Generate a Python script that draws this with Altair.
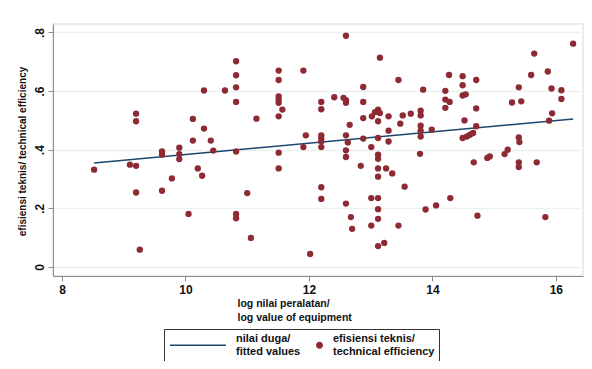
import altair as alt
import pandas as pd

# scatter: log value of equipment (x) vs technical efficiency (y)
eq_x = [10.82, 10.82, 10.82, 10.82, 10.30, 10.64, 9.20, 9.20, 10.12, 10.30,
        10.12, 10.41, 9.90, 10.45, 10.82, 9.62, 9.62, 9.90, 9.90, 8.52,
        9.10, 9.20, 10.20, 10.27, 9.78, 9.20, 9.62, 10.05, 10.82, 10.82,
        9.26, 12.60, 13.15, 11.51, 11.51, 11.91, 13.45, 12.88, 11.51, 11.51,
        11.51, 11.57, 11.51, 11.15, 12.20, 12.20, 12.41, 12.56, 12.60, 12.60,
        12.88, 13.12, 13.07, 13.02, 13.15, 12.88, 13.12, 13.29, 13.52, 13.48,
        12.66, 13.29, 11.95, 12.20, 12.20, 12.20, 12.60, 12.88, 13.12, 13.29,
        12.63, 11.91, 12.20, 13.01, 12.60, 11.51, 12.60, 13.12, 13.12, 12.84,
        13.12, 13.25, 13.35, 13.12, 13.55, 11.51, 12.20, 12.20, 11.00, 12.60,
        13.01, 13.12, 13.12, 12.68, 13.12, 13.01, 13.45, 12.70, 11.06, 13.22,
        13.12, 12.02, 16.28, 15.65, 15.60, 15.87, 15.40, 15.93, 16.09, 16.09,
        15.44, 15.29, 15.94, 15.89, 14.27, 14.49, 14.71, 14.49, 13.85, 14.21,
        14.49, 14.54, 14.21, 14.28, 14.21, 14.71, 13.81, 13.81, 13.65, 14.52,
        13.81, 13.81, 13.81, 13.99, 14.71, 14.66, 14.61, 14.56, 14.49, 15.40,
        15.41, 15.22, 13.80, 14.67, 14.89, 14.93, 15.17, 15.40, 15.40, 15.69,
        14.29, 14.06, 13.89, 14.73, 15.83]
eff_y = [0.702, 0.654, 0.613, 0.563, 0.602, 0.602, 0.523, 0.497, 0.505, 0.472,
         0.431, 0.431, 0.407, 0.397, 0.394, 0.394, 0.383, 0.385, 0.368, 0.332,
         0.349, 0.345, 0.336, 0.311, 0.302, 0.254, 0.260, 0.181, 0.181, 0.166,
         0.059, 0.789, 0.714, 0.670, 0.638, 0.670, 0.638, 0.614, 0.582, 0.571,
         0.560, 0.537, 0.514, 0.506, 0.563, 0.538, 0.579, 0.577, 0.569, 0.560,
         0.563, 0.537, 0.528, 0.514, 0.525, 0.508, 0.497, 0.514, 0.517, 0.489,
         0.485, 0.465, 0.449, 0.449, 0.438, 0.428, 0.449, 0.438, 0.440, 0.428,
         0.425, 0.409, 0.409, 0.409, 0.398, 0.390, 0.375, 0.383, 0.369, 0.345,
         0.336, 0.336, 0.319, 0.308, 0.274, 0.336, 0.272, 0.232, 0.252, 0.216,
         0.235, 0.235, 0.197, 0.170, 0.164, 0.141, 0.141, 0.130, 0.099, 0.082,
         0.071, 0.044, 0.762, 0.728, 0.655, 0.667, 0.613, 0.609, 0.603, 0.573,
         0.565, 0.561, 0.524, 0.499, 0.655, 0.651, 0.638, 0.620, 0.605, 0.601,
         0.585, 0.589, 0.571, 0.563, 0.543, 0.541, 0.533, 0.517, 0.523, 0.500,
         0.482, 0.465, 0.445, 0.468, 0.480, 0.457, 0.451, 0.445, 0.440, 0.442,
         0.426, 0.400, 0.386, 0.357, 0.372, 0.377, 0.385, 0.357, 0.341, 0.357,
         0.235, 0.210, 0.196, 0.175, 0.170]

# fitted values (end points of the fitted line)
fit_x = [8.52, 16.28]
fit_y = [0.355, 0.505]

x_ticks = [8, 10, 12, 14, 16]
y_ticks = [0, 0.2, 0.4, 0.6, 0.8]
legend_labels = ["nilai duga/|fitted values", "efisiensi teknis/|technical efficiency"]

NAVY = "#1a476f"
MAROON = "#8e2a33"
FONT = "Liberation Sans"

# legend symbol shapes (unit paths, 1 unit = 3.5 px): a long thin line reaching left, and a dot
LINE_SYMBOL = "M-15,1.643H1V2.071H-15Z"
DOT_SYMBOL = "M-1,1.857A1,1,0,1,1,1,1.857A1,1,0,1,1,-1,1.857Z"

pts = pd.DataFrame({"x": eq_x, "y": eff_y})
fit = pd.DataFrame({"x": fit_x, "y": fit_y})
leg = pd.DataFrame({"series": legend_labels})

xscale = alt.Scale(domain=[7.854, 16.44], nice=False, zero=False)
yscale = alt.Scale(domain=[-0.031, 0.829], nice=False, zero=False)

xaxis = alt.Axis(values=x_ticks, format="d", grid=False, tickSize=5, labelPadding=3,
                 labelFontSize=12, labelFontWeight="bold", labelFont=FONT, labelColor="#111",
                 domainColor="#8c8c8c", tickColor="#8c8c8c",
                 title=["log nilai peralatan/", "log value of equipment"],
                 titleFont=FONT, titleFontSize=10.5, titleFontWeight="bold", titleColor="#111",
                 titleAlign="left", titleX=184, titleY=22, titleBaseline="top", titleLineHeight=14)
yaxis = alt.Axis(values=y_ticks, grid=True, gridColor="#e9f1f2", gridWidth=1.5,
                 tickSize=5, labelPadding=2, labelAngle=270, labelAlign="center", labelBaseline="bottom",
                 labelFontSize=12, labelFontWeight="bold", labelFont=FONT, labelColor="#111",
                 labelExpr="datum.value == 0 ? '0' : replace(format(datum.value, '.1f'), '0.', '.')",
                 domainColor="#8c8c8c", tickColor="#8c8c8c",
                 title="efisiensi teknis/ technical efficiency",
                 titleFont=FONT, titleFontSize=10, titleFontWeight="bold", titleColor="#111",
                 titleAngle=270, titleAlign="center", titleBaseline="middle", titleX=-31, titleY=127)

scatter = alt.Chart(pts).mark_circle(size=40, opacity=1, color=MAROON).encode(
    x=alt.X("x:Q", scale=xscale, axis=xaxis),
    y=alt.Y("y:Q", scale=yscale, axis=yaxis),
)
line = alt.Chart(fit).mark_line(color=NAVY, strokeWidth=1.5).encode(
    x=alt.X("x:Q", scale=xscale),
    y=alt.Y("y:Q", scale=yscale),
)

legend = alt.Legend(orient="none", legendX=111, legendY=305, direction="horizontal",
                    title="\u00a0", titleOrient="left", titlePadding=49, titleFontSize=11,
                    labelExpr="split(datum.label, '|')", labelFont=FONT, labelFontSize=11,
                    labelFontWeight="bold", labelColor="#111", labelLimit=300, labelOffset=8,
                    symbolSize=49, symbolStrokeWidth=0, symbolOpacity=1,
                    columnPadding=13, padding=4,
                    strokeColor="#333", fillColor="white")

legend_layer = alt.Chart(leg).mark_point(filled=True, opacity=0, size=36).encode(
    color=alt.Color("series:N", scale=alt.Scale(domain=legend_labels, range=[NAVY, MAROON]), legend=legend),
    shape=alt.Shape("series:N", scale=alt.Scale(domain=legend_labels, range=[LINE_SYMBOL, DOT_SYMBOL]), legend=legend),
)

chart = alt.layer(line, scatter, legend_layer).properties(
    width=530, height=252,
    autosize=alt.AutoSizeParams(type="none"),
    padding={"left": 45, "top": 16, "right": 1, "bottom": 85},
    background="white",
).configure_view(stroke="#dfe8ea", strokeWidth=1.5)

chart.save("out.html", embed_options={"renderer": "svg", "actions": False})
